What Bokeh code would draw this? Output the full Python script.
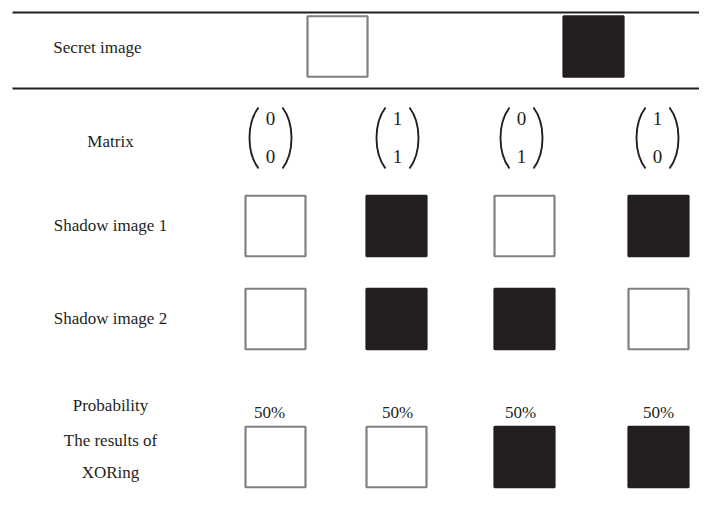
from bokeh.plotting import figure
from bokeh.models import Range1d, ColumnDataSource
from bokeh.core.properties import value
from bokeh.embed import file_html
from bokeh.resources import INLINE

# ---- data ----
row_labels = ["Secret image", "Matrix", "Shadow image 1", "Shadow image 2",
              "Probability", "The results of", "XORing"]
secret_bits = [0, 1]
matrix_top = [0, 1, 0, 1]
matrix_bottom = [0, 1, 1, 0]
shadow1 = [0, 1, 0, 1]
shadow2 = [0, 1, 1, 0]
probability = ["50%", "50%", "50%", "50%"]
xor_result = [0, 0, 1, 1]

# ---- layout (pixel-like data coordinates) ----
DARK = "#231f20"
GRAY = "#808080"
FONT = value("Liberation Serif")
FS = "17px"

col_x = [275, 396, 524, 658]
matrix_x = [270, 397, 521, 657]
prob_x = [269, 397, 520, 658]
secret_x = [337, 593]
label_x = [97, 110, 110, 110, 110, 110, 110]
label_y = [47, 141, 225, 318, 405, 440, 472]
sq = 60

p = figure(width=699, height=494, x_range=Range1d(0, 699), y_range=Range1d(494, 0),
           output_backend="svg", toolbar_location=None, min_border=0)
p.axis.visible = False
p.grid.visible = False
p.outline_line_color = None
p.background_fill_color = "white"
p.border_fill_color = "white"

# horizontal rules
p.segment(x0=[12, 12], y0=[12, 88], x1=[715, 715], y1=[12, 88], line_color=DARK, line_width=2.2)

# row labels
p.text(x=label_x, y=label_y, text=row_labels, text_font=FONT, text_font_size=FS,
       text_color=DARK, text_align="center", text_baseline="middle")

def squares(xs, ys, bits):
    src = ColumnDataSource(dict(
        x=xs, y=ys,
        fill=[DARK if b else "white" for b in bits],
        line=[DARK if b else GRAY for b in bits],
    ))
    p.rect(x="x", y="y", width=sq, height=sq + 0.5, source=src,
           fill_color="fill", line_color="line", line_width=2.2)

squares(secret_x, [46] * 2, secret_bits)
squares(col_x, [225.5] * 4, shadow1)
squares(col_x, [318.5] * 4, shadow2)
squares(col_x, [456.5] * 4, xor_result)

# matrix entries with parentheses
p.text(x=matrix_x, y=[118] * 4, text=[str(v) for v in matrix_top], text_font=FONT,
       text_font_size="19px", text_color=DARK, text_align="center", text_baseline="middle")
p.text(x=matrix_x, y=[156] * 4, text=[str(v) for v in matrix_bottom], text_font=FONT,
       text_font_size="19px", text_color=DARK, text_align="center", text_baseline="middle")
top, bot = 107, 168
x0, cx0, cy0, cx1, cy1, x1 = [], [], [], [], [], []
ys0, ys1 = [], []
for mx in matrix_x:
    for s in (-1, 1):
        x0.append(mx + s * 12); x1.append(mx + s * 12)
        cx0.append(mx + s * 24); cx1.append(mx + s * 24)
        ys0.append(top); ys1.append(bot)
        cy0.append(top + 16); cy1.append(bot - 16)
p.bezier(x0=x0, y0=ys0, x1=x1, y1=ys1, cx0=cx0, cy0=cy0, cx1=cx1, cy1=cy1,
         line_color=DARK, line_width=1.9)

# probability
p.text(x=prob_x, y=[412] * 4, text=probability, text_font=FONT, text_font_size=FS,
       text_color=DARK, text_align="center", text_baseline="middle")

open("out.html", "w").write(file_html(p, INLINE))
